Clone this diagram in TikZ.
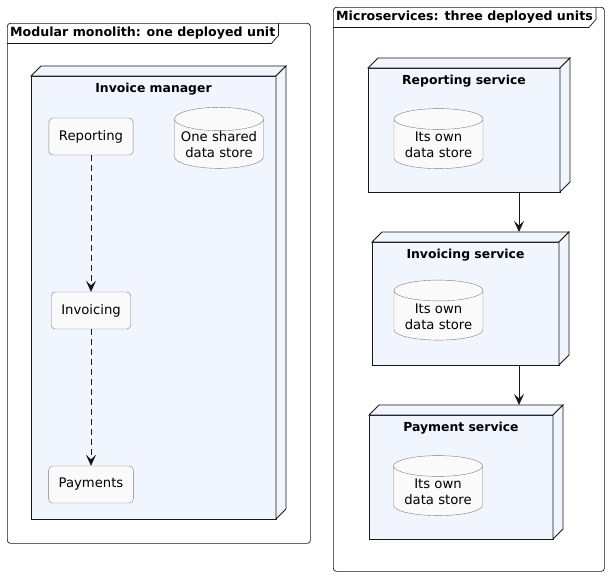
\documentclass[tikz,border=0pt]{standalone}
\usepackage{fontspec}
\setmainfont{DejaVu Sans}
\usetikzlibrary{shapes.geometric,arrows.meta,positioning,calc}

\definecolor{NodeBlue}{HTML}{F1F5FE}
\definecolor{CompGray}{HTML}{FAFAFA}
\definecolor{LineDark}{HTML}{181818}
\definecolor{BorderGray}{HTML}{7E7E7E}

\newcommand{\tabfont}{\fontsize{12.6}{15}\selectfont\bfseries}
\newcommand{\titlefont}{\fontsize{12.4}{15}\selectfont\bfseries}
\newcommand{\bodyfont}{\fontsize{13.2}{16}\selectfont}

% top and right faces of a deployment node
\newcommand{\nodedepth}[1]{%
  \draw[unit] (#1.north west) -- ($(#1.north west)+(10,-10)$) -- ($(#1.north east)+(10,-10)$)
    -- (#1.north east) -- cycle;
  \draw[unit] (#1.north east) -- ($(#1.north east)+(10,-10)$) -- ($(#1.south east)+(10,-10)$)
    -- (#1.south east) -- cycle;
}

\tikzset{
  frame/.style={draw=LineDark, line width=0.7pt, rounded corners=3pt},
  tabtitle/.style={anchor=north west, inner xsep=3pt, inner ysep=0pt, minimum height=20pt, font=\tabfont},
  unit/.style={draw=LineDark, line width=0.8pt, fill=NodeBlue, outer sep=0pt},
  unittitle/.style={font=\titlefont, inner sep=0pt},
  module/.style={draw=BorderGray, fill=CompGray, rounded corners=4pt, minimum height=37pt, inner xsep=10pt, font=\bodyfont},
  store/.style={cylinder, shape border rotate=90, aspect=0.3, draw=BorderGray, fill=CompGray,
    align=center, font=\bodyfont, minimum width=89pt, minimum height=60pt, inner sep=1pt},
  uses/.style={-{Stealth[length=11pt, width=10pt, inset=4.5pt]}, dashed, dash pattern=on 6pt off 4pt, draw=LineDark, line width=0.8pt},
  calls/.style={-{Stealth[length=11pt, width=10pt, inset=4.5pt]}, draw=LineDark, line width=0.8pt}
}

\begin{document}
\begin{tikzpicture}[x=1pt, y=-1pt]
  \useasboundingbox (0,0) rectangle (609,576);

  %% Modular monolith
  \node [frame, minimum width=303pt, minimum height=520pt, anchor=north west] (mono) at (7,23) {};
  \node [tabtitle] (monotab) at (mono.north west) {Modular monolith: one deployed unit};
  \draw [line width=0.7pt, draw=LineDark] (mono.west |- monotab.south) -- ([xshift=-7pt]monotab.south east)
    -- ([yshift=8pt]monotab.south east) -- (monotab.east |- mono.north);

  \node [unit, minimum width=245pt, minimum height=443pt] (mgr) at (153.5,297.5) {};
  \nodedepth{mgr}
  \node [unittitle, below=7pt of mgr.north] (mgrtitle) {Invoice manager};
  \node [module] (rep) at (91,136.5) {Reporting};
  \node [module] (inv) at (91,310.5) {Invoicing};
  \node [module] (pay) at (91,484.5) {Payments};
  \node [store] (shared) at (219,145) {One shared\\data store};

  \draw [uses] (rep) -- (inv);
  \draw [uses] (inv) -- (pay);

  %% Microservices
  \node [frame, minimum width=271pt, minimum height=564pt, anchor=north west] (micro) at (333,7) {};
  \node [tabtitle] (microtab) at (micro.north west) {Microservices: three deployed units};
  \draw [line width=0.7pt, draw=LineDark] (micro.west |- microtab.south) -- ([xshift=-7pt]microtab.south east)
    -- ([yshift=8pt]microtab.south east) -- (microtab.east |- micro.north);

  \node [unit, minimum width=192pt, minimum height=124pt] (repsvc) at (464,130) {};
  \nodedepth{repsvc}
  \node [unittitle, below=7pt of repsvc.north] (repsvctitle) {Reporting service};
  \node [store] (repdb) at (438.5,145) {Its own\\data store};

  \node [unit, minimum width=187pt, minimum height=123pt] (invsvc) at (465.5,303.5) {};
  \nodedepth{invsvc}
  \node [unittitle, below=7pt of invsvc.north] (invsvctitle) {Invoicing service};
  \node [store] (invdb) at (438.5,316.5) {Its own\\data store};

  \node [unit, minimum width=184pt, minimum height=124pt] (paysvc) at (461,477) {};
  \nodedepth{paysvc}
  \node [unittitle, below=7pt of paysvc.north] (paysvctitle) {Payment service};
  \node [store] (paydb) at (438,492) {Its own\\data store};

  \coordinate (drop) at (519,0);
  \draw [calls] (repsvc.south -| drop) -- ([yshift=10pt]invsvc.north -| drop);
  \draw [calls] (invsvc.south -| drop) -- ([yshift=10pt]paysvc.north -| drop);
\end{tikzpicture}
\end{document}
